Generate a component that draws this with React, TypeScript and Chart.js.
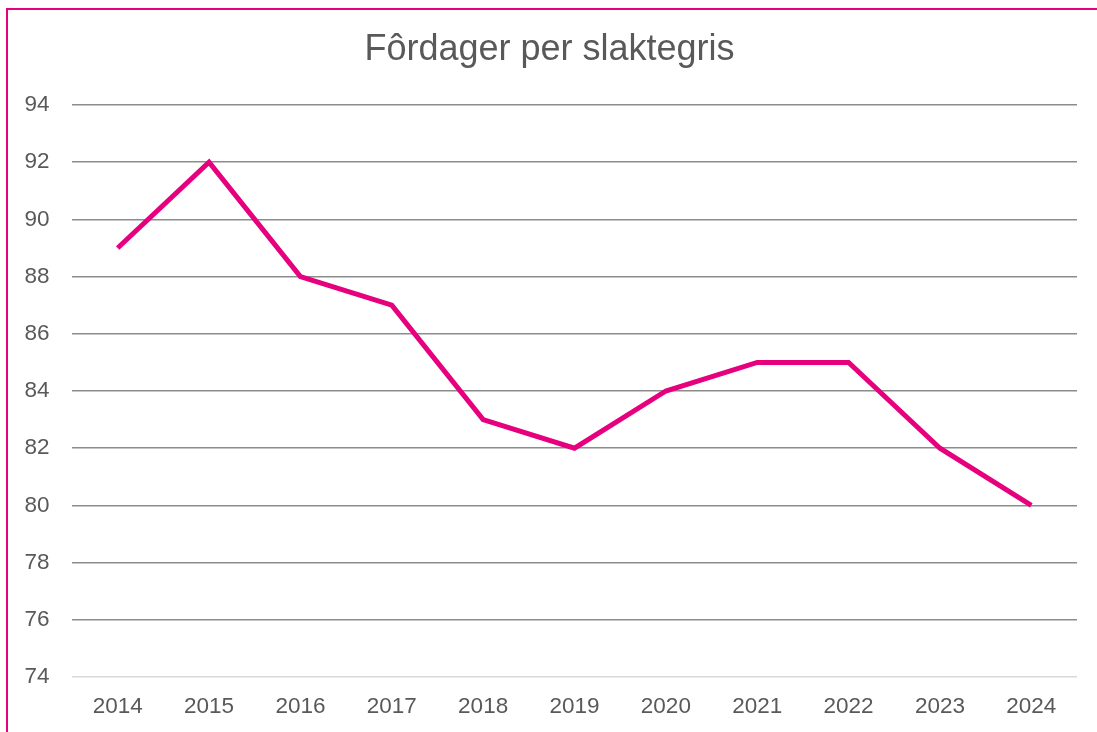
import React, { useEffect, useRef } from "react";
import { Chart, registerables } from "chart.js";

Chart.register(...registerables);

const categories = ["2014", "2015", "2016", "2017", "2018", "2019", "2020", "2021", "2022", "2023", "2024"];
const values = [89, 92, 88, 87, 83, 82, 84, 85, 85, 82, 80];
const yMin = 74;
const yMax = 94;
const yStep = 2;
const titleText = "Fôrdager per slaktegris";

export default function App() {
  const ref = useRef<HTMLCanvasElement>(null);

  useEffect(() => {
    if (!ref.current) return;
    const chart = new Chart(ref.current, {
      type: "line",
      data: {
        labels: categories,
        datasets: [
          {
            data: values,
            borderColor: "#e6007e",
            backgroundColor: "#e6007e",
            borderWidth: 5,
            pointRadius: 0,
            pointHoverRadius: 0,
            tension: 0,
          },
        ],
      },
      options: {
        responsive: false,
        animation: false,
        layout: { padding: { top: 28.2, right: 20, bottom: 0, left: 22 } },
        plugins: {
          legend: { display: false },
          tooltip: { enabled: false },
          title: {
            display: true,
            text: titleText,
            color: "#595959",
            font: { family: "Arial, 'Liberation Sans', sans-serif", size: 36, weight: "normal" },
            padding: { top: 0, bottom: 33.6 },
          },
        },
        scales: {
          x: {
            offset: true,
            grid: { display: false, drawTicks: false },
            border: { display: false },
            ticks: {
              color: "#595959",
              font: { family: "Arial, 'Liberation Sans', sans-serif", size: 22.5 },
              padding: 16,
              maxRotation: 0,
              autoSkip: false,
            },
            afterFit: (scale: any) => {
              scale.height = 55;
            },
          },
          y: {
            min: yMin,
            max: yMax,
            grid: {
              drawTicks: false,
              lineWidth: 1.5,
              color: (ctx: any) => (ctx.tick && ctx.tick.value === yMin ? "#d9d9d9" : "#8c8c8c"),
            },
            border: { display: false },
            ticks: {
              stepSize: yStep,
              color: "#595959",
              font: { family: "Arial, 'Liberation Sans', sans-serif", size: 22.5 },
              padding: 22.5,
            },
            afterFit: (scale: any) => {
              scale.width = 50;
            },
          },
        },
      },
    });
    return () => chart.destroy();
  }, []);

  return (
    <div style={{ position: "relative", width: 1097, height: 732, overflow: "hidden", background: "#fff" }}>
      <style>{`body{margin:0;overflow:hidden;}`}</style>
      <div
        style={{
          position: "absolute",
          left: 6,
          top: 8,
          width: 1200,
          height: 800,
          borderLeft: "2px solid #e6007e",
          borderTop: "2px solid #e6007e",
        }}
      />
      <canvas ref={ref} width={1097} height={732} style={{ position: "absolute", left: 0, top: 0 }} />
    </div>
  );
}
